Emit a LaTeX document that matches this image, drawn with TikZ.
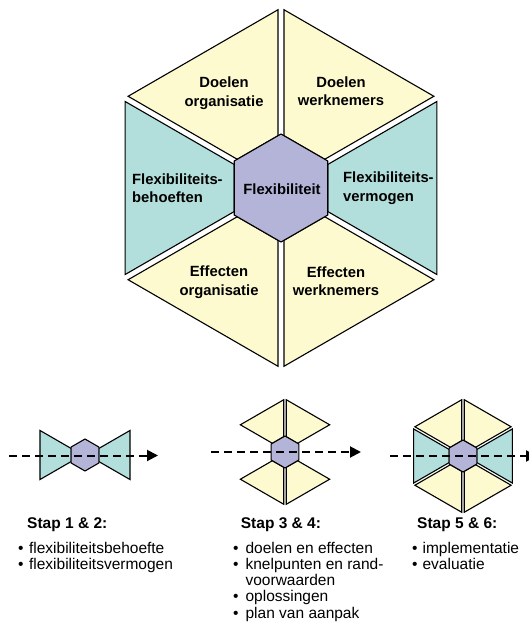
\documentclass[tikz,border=0pt]{standalone}
\usepackage{fontspec}
\setmainfont{Liberation Sans}
\usetikzlibrary{calc,arrows.meta}

\definecolor{petal}{RGB}{253,250,208}
\definecolor{leaf}{RGB}{178,222,219}
\definecolor{core}{RGB}{180,180,216}

\tikzset{
  piece/.style={draw=black, line width=1.1pt, line join=miter},
  label/.style={font=\fontsize{14.8}{18.5}\selectfont\bfseries, inner sep=0pt, align=center},
  sidelabel/.style={font=\fontsize{14.8}{18.5}\selectfont\bfseries, inner sep=0pt, align=left, anchor=west},
  heading/.style={font=\fontsize{15.5}{18}\selectfont\bfseries, inner sep=0pt, anchor=base west},
  bullets/.style={font=\fontsize{15.5}{16.3}\selectfont, inner sep=0pt, anchor=base west},
  flow/.style={line width=2pt, dash pattern=on 8pt off 5pt, -{Triangle[length=11pt,width=11pt]}}
}

% one segment of a hexagon ring: centre x, centre y, bisector angle,
% inner radius, outer radius, gap to the neighbouring segments, fill colour
\newcommand\ringpart[7]{%
  \pgfmathsetmacro\hIn{#4*cos(30)}%
  \pgfmathsetmacro\hOut{#5*cos(30)}%
  \pgfmathsetmacro\vIn{#4*0.5-#6/(2*cos(30))}%
  \pgfmathsetmacro\vOut{#5*0.5-#6/(2*cos(30))}%
  \draw[piece,fill=#7]
    ($(#1,#2)+(#3:\hOut)+(#3+90:\vOut)$) --
    ($(#1,#2)+(#3:\hOut)+(#3-90:\vOut)$) --
    ($(#1,#2)+(#3:\hIn)+(#3-90:\vIn)$) --
    ($(#1,#2)+(#3:\hIn)+(#3+90:\vIn)$) -- cycle;
}
% the central hexagon: centre x, centre y, radius
\newcommand\corehex[3]{%
  \draw[piece,fill=core] (#1,#2) +(30:#3) -- +(90:#3) -- +(150:#3)
    -- +(210:#3) -- +(270:#3) -- +(330:#3) -- cycle;
}

\begin{document}
\begin{tikzpicture}[x=1pt,y=-1pt]
\useasboundingbox (0,0) rectangle (529,625);

% ---- large model ----
\ringpart{281}{188}{120}{54}{180}{6}{petal}
\ringpart{281}{188}{60}{54}{180}{6}{petal}
\ringpart{281}{188}{0}{54}{180}{6}{leaf}
\ringpart{281}{188}{180}{54}{180}{6}{leaf}
\ringpart{281}{188}{240}{54}{180}{6}{petal}
\ringpart{281}{188}{300}{54}{180}{6}{petal}
\corehex{281}{188}{54}

\node[label] (doelorg) at (224,93) {Doelen\\organisatie};
\node[label] (doelwn) at (341,91) {Doelen\\werknemers};
\node[sidelabel] (behoefte) at (132,188) {Flexibiliteits-\\behoeften};
\node[label] (flex) at (282,189) {Flexibiliteit};
\node[sidelabel] (vermogen) at (343,188) {Flexibiliteits-\\vermogen};
\node[label] (efforg) at (219,282) {Effecten\\organisatie};
\node[label] (effwn) at (336,281) {Effecten\\werknemers};

% ---- step 1 & 2 ----
\ringpart{85}{455}{0}{16}{52}{2.5}{leaf}
\ringpart{85}{455}{180}{16}{52}{2.5}{leaf}
\corehex{85}{455}{16}
\coordinate (a1) at (9,455.5);
\coordinate (a2) at (158,455.5);
\draw[flow] (a1) -- (a2);

% ---- step 3 & 4 ----
\ringpart{285}{452}{60}{16}{53}{2.5}{petal}
\ringpart{285}{452}{120}{16}{53}{2.5}{petal}
\ringpart{285}{452}{240}{16}{53}{2.5}{petal}
\ringpart{285}{452}{300}{16}{53}{2.5}{petal}
\corehex{285}{452}{16}
\coordinate (b1) at (211,452);
\coordinate (b2) at (361,452);
\draw[flow] (b1) -- (b2);

% ---- step 5 & 6 ----
\ringpart{463}{456}{0}{16}{57}{2.5}{leaf}
\ringpart{463}{456}{180}{16}{57}{2.5}{leaf}
\ringpart{463}{456}{60}{16}{57}{2.5}{petal}
\ringpart{463}{456}{120}{16}{57}{2.5}{petal}
\ringpart{463}{456}{240}{16}{57}{2.5}{petal}
\ringpart{463}{456}{300}{16}{57}{2.5}{petal}
\corehex{463}{456}{16}
\coordinate (c1) at (390,456);
\coordinate (c2) at (537,456);
\draw[flow] (c1) -- (c2);

% ---- captions ----
\node[heading] (h1) at (27,528) {Stap 1 \& 2:};
\node[heading] (h2) at (240.7,528) {Stap 3 \& 4:};
\node[heading] (h3) at (417,528) {Stap 5 \& 6:};

\node[bullets] (l1) at (18,553) {\begin{tabular}[t]{@{}l@{\hspace{5.5pt}}l@{}}
  \textbullet & flexibiliteitsbehoefte\\
  \textbullet & flexibiliteitsvermogen
\end{tabular}};
\node[bullets] (l2) at (233,553) {\begin{tabular}[t]{@{}l@{\hspace{7pt}}l@{}}
  \textbullet & doelen en effecten\\
  \textbullet & knelpunten en rand-\\
              & voorwaarden\\
  \textbullet & oplossingen\\
  \textbullet & plan van aanpak
\end{tabular}};
\node[bullets] (l3) at (412,553) {\begin{tabular}[t]{@{}l@{\hspace{5pt}}l@{}}
  \textbullet & implementatie\\
  \textbullet & evaluatie
\end{tabular}};
\end{tikzpicture}
\end{document}
